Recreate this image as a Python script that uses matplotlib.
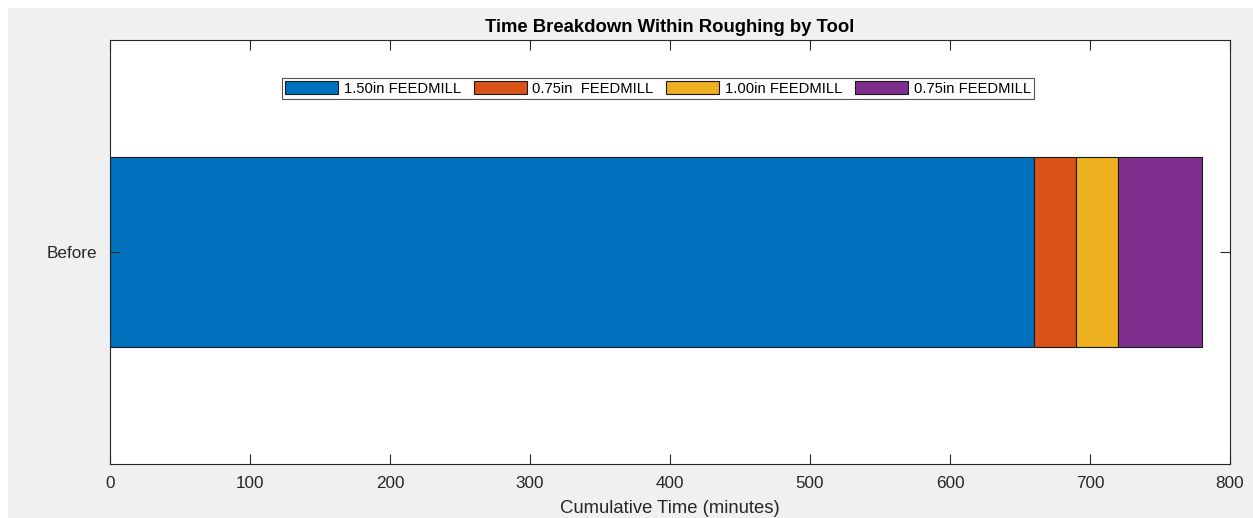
import matplotlib.pyplot as plt
import numpy as np
from matplotlib.patches import Rectangle

plt.rcParams["font.family"] = ["Liberation Sans", "DejaVu Sans"]

categories = ["Before"]
tool_labels = ["1.50in FEEDMILL", "0.75in  FEEDMILL", "1.00in FEEDMILL", "0.75in FEEDMILL"]
tool_minutes = [660, 30, 30, 60]
colors = ["#0072BD", "#D95319", "#EDB120", "#7E2F8E"]

W, H = 1253, 518
fig = plt.figure(figsize=(W / 100, H / 100), dpi=100, facecolor="white")
# grey MATLAB-style figure background (leaves thin white strip top/left)
fig.patches.append(Rectangle((8 / W, 0), 1 - 8 / W, 1 - 8 / H, transform=fig.transFigure,
                             facecolor="#F0F0F0", edgecolor="none", zorder=-10))

ax = fig.add_axes([110 / W, (H - 464) / H, 1120 / W, 424 / H])
ax.set_facecolor("white")

lefts = np.concatenate([[0], np.cumsum(tool_minutes)[:-1]])
for val, left, lab, col in zip(tool_minutes, lefts, tool_labels, colors):
    ax.barh(1, val, left=left, height=0.45, color=col, edgecolor="#1a1a1a",
            linewidth=0.8, label=lab)

ax.set_xlim(0, 800)
ax.set_ylim(0.5, 1.5)
ax.set_xticks(np.arange(0, 801, 100))
ax.set_yticks([1])
ax.set_yticklabels(categories)

ax.tick_params(axis="both", direction="in", length=7, width=0.8, colors="#262626",
               labelsize=12.3, top=True, right=True, pad=9)
for sp in ax.spines.values():
    sp.set_color("#262626")
    sp.set_linewidth(0.8)

ax.set_title("Time Breakdown Within Roughing by Tool", fontsize=13.3, fontweight="bold",
             color="black", pad=6)
ax.set_xlabel("Cumulative Time (minutes)", fontsize=13.3, color="#262626", labelpad=6)

leg = ax.legend(ncol=4, loc="center", bbox_to_anchor=(658 / W, (H - 88.5) / H),
                bbox_transform=fig.transFigure, fontsize=10.6, frameon=True,
                fancybox=False, edgecolor="#262626", handlelength=3.6,
                handleheight=0.9, handletextpad=0.4, columnspacing=0.85,
                borderpad=0.2, borderaxespad=0)
leg.get_frame().set_linewidth(0.8)

fig.savefig("out.png", dpi=100, facecolor=fig.get_facecolor())
